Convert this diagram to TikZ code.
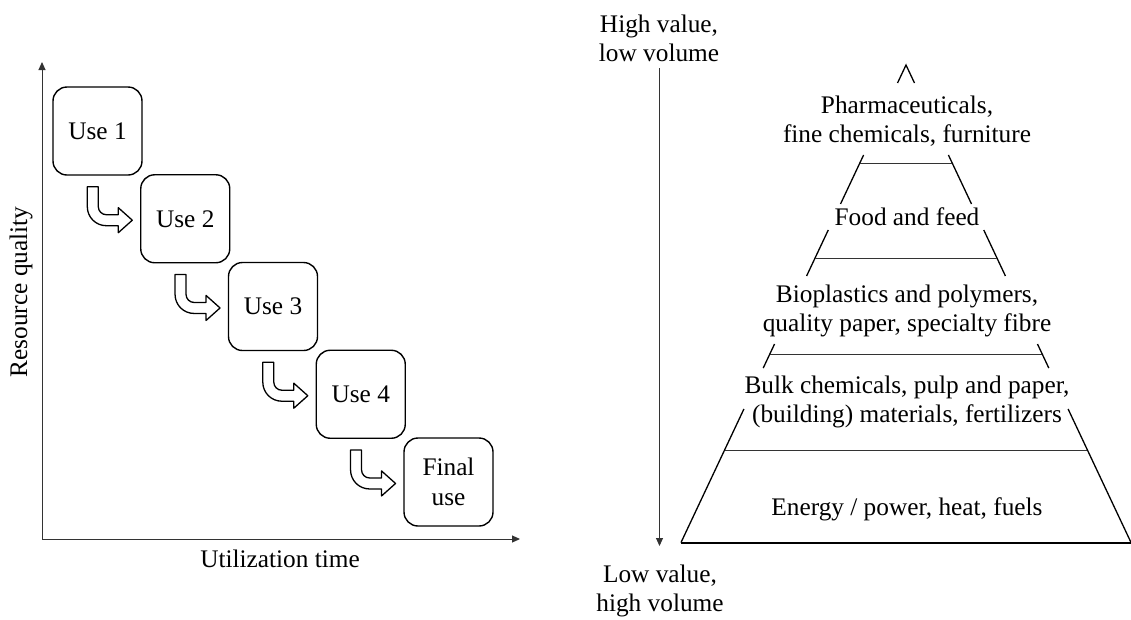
\documentclass[tikz,border=0pt]{standalone}
\usepackage{fontspec}
\setmainfont{Liberation Serif}
\usetikzlibrary{arrows.meta,calc}

% x position of the pyramid's left/right side at height y
\newcommand{\pyrleft}[1]{906-0.471204*(#1-65)}
\newcommand{\pyrright}[1]{906+0.471204*(#1-65)}
\newcommand{\labelfont}{\fontsize{25.3}{29.5}\selectfont}

\tikzset{
  txt/.style={font=\labelfont, inner sep=0pt, align=center},
  stagebox/.style={draw, line width=1.4pt, rounded corners=14pt,
    minimum width=89pt, minimum height=88pt, inner sep=0pt,
    font=\labelfont, align=center},
  axisline/.style={line width=1pt, black!80, -{Triangle[length=8pt,width=7pt]}},
  arrowline/.style={draw, line width=1.3pt, fill=white, line join=round},
  side/.style={line width=1.3pt},
  baseline/.style={line width=2pt},
  divider/.style={line width=0.9pt, black!80},
  bentarrow/.pic={
    \path[arrowline] (0,0) -- (11,0) -- (11,20)
      arc[start angle=180, end angle=90, radius=8]
      -- (31,28) -- (31,21) -- (45,33.5) -- (31,46) -- (31,39) -- (19,39)
      arc[start angle=90, end angle=180, radius=19] -- cycle;
  }
}

\begin{document}
\begin{tikzpicture}[x=1pt, y=-1pt]
\useasboundingbox (0,0) rectangle (1131,619);

% ---------- cascading use ----------
\coordinate (origin) at (42,539);
\coordinate (ytop) at (42,62);
\coordinate (xend) at (520,539);
\draw[axisline] (origin) -- (ytop);
\draw[axisline] (origin) -- (xend);
\node[txt, rotate=90] (ylabel) at (21,292) {Resource quality};
\node[txt, anchor=north] (xlabel) at (280,549.7) {Utilization time};

\node[stagebox] (u1) at (97.5,131)     {Use 1};
\node[stagebox] (u2) at (185.25,218.75) {Use 2};
\node[stagebox] (u3) at (273,306.5)    {Use 3};
\node[stagebox] (u4) at (360.75,394.25) {Use 4};
\node[stagebox] (u5) at (448.5,482)    {Final\\use};

\foreach \b in {u1,u2,u3,u4}
  \pic at ([shift={(35,11)}]\b.south west) {bentarrow};

% ---------- value pyramid ----------
\node[txt, anchor=north] (hv) at (659,14.7) {High value,\\low volume};
\node[txt, anchor=north] (lv) at (660,564.7) {Low value,\\high volume};
\coordinate (vtop) at (659.5,68);
\coordinate (vbot) at (659.5,546);
\draw[axisline] (vtop) -- (vbot);

% apex
\draw[side, line join=miter] ({\pyrleft{83}},83) -- (906,65) -- ({\pyrright{83}},83);
% side segments between the labels
\foreach \a/\b in {155/204,230/276,344/368,409/542.5}{
  \draw[side] ({\pyrleft{\a}},\a) -- ({\pyrleft{\b}},\b);
  \draw[side] ({\pyrright{\a}},\a) -- ({\pyrright{\b}},\b);
}
% base
\draw[baseline] (681,542.5) -- (1131,542.5);
% level dividers
\foreach \y in {163,258,354,450}
  \draw[divider] ({\pyrleft{\y}},\y) -- ({\pyrright{\y}},\y);

\node[txt, anchor=north] (l1) at (907,95.7)  {Pharmaceuticals,\\fine chemicals, furniture};
\node[txt, anchor=north] (l2) at (907,207.7) {Food and feed};
\node[txt, anchor=north] (l3) at (907,284.7) {Bioplastics and polymers,\\quality paper, specialty fibre};
\node[txt, anchor=north] (l4) at (907,375.7) {Bulk chemicals, pulp and paper,\\(building) materials, fertilizers};
\node[txt, anchor=north] (l5) at (907,497.7) {Energy / power, heat, fuels};
\end{tikzpicture}
\end{document}
